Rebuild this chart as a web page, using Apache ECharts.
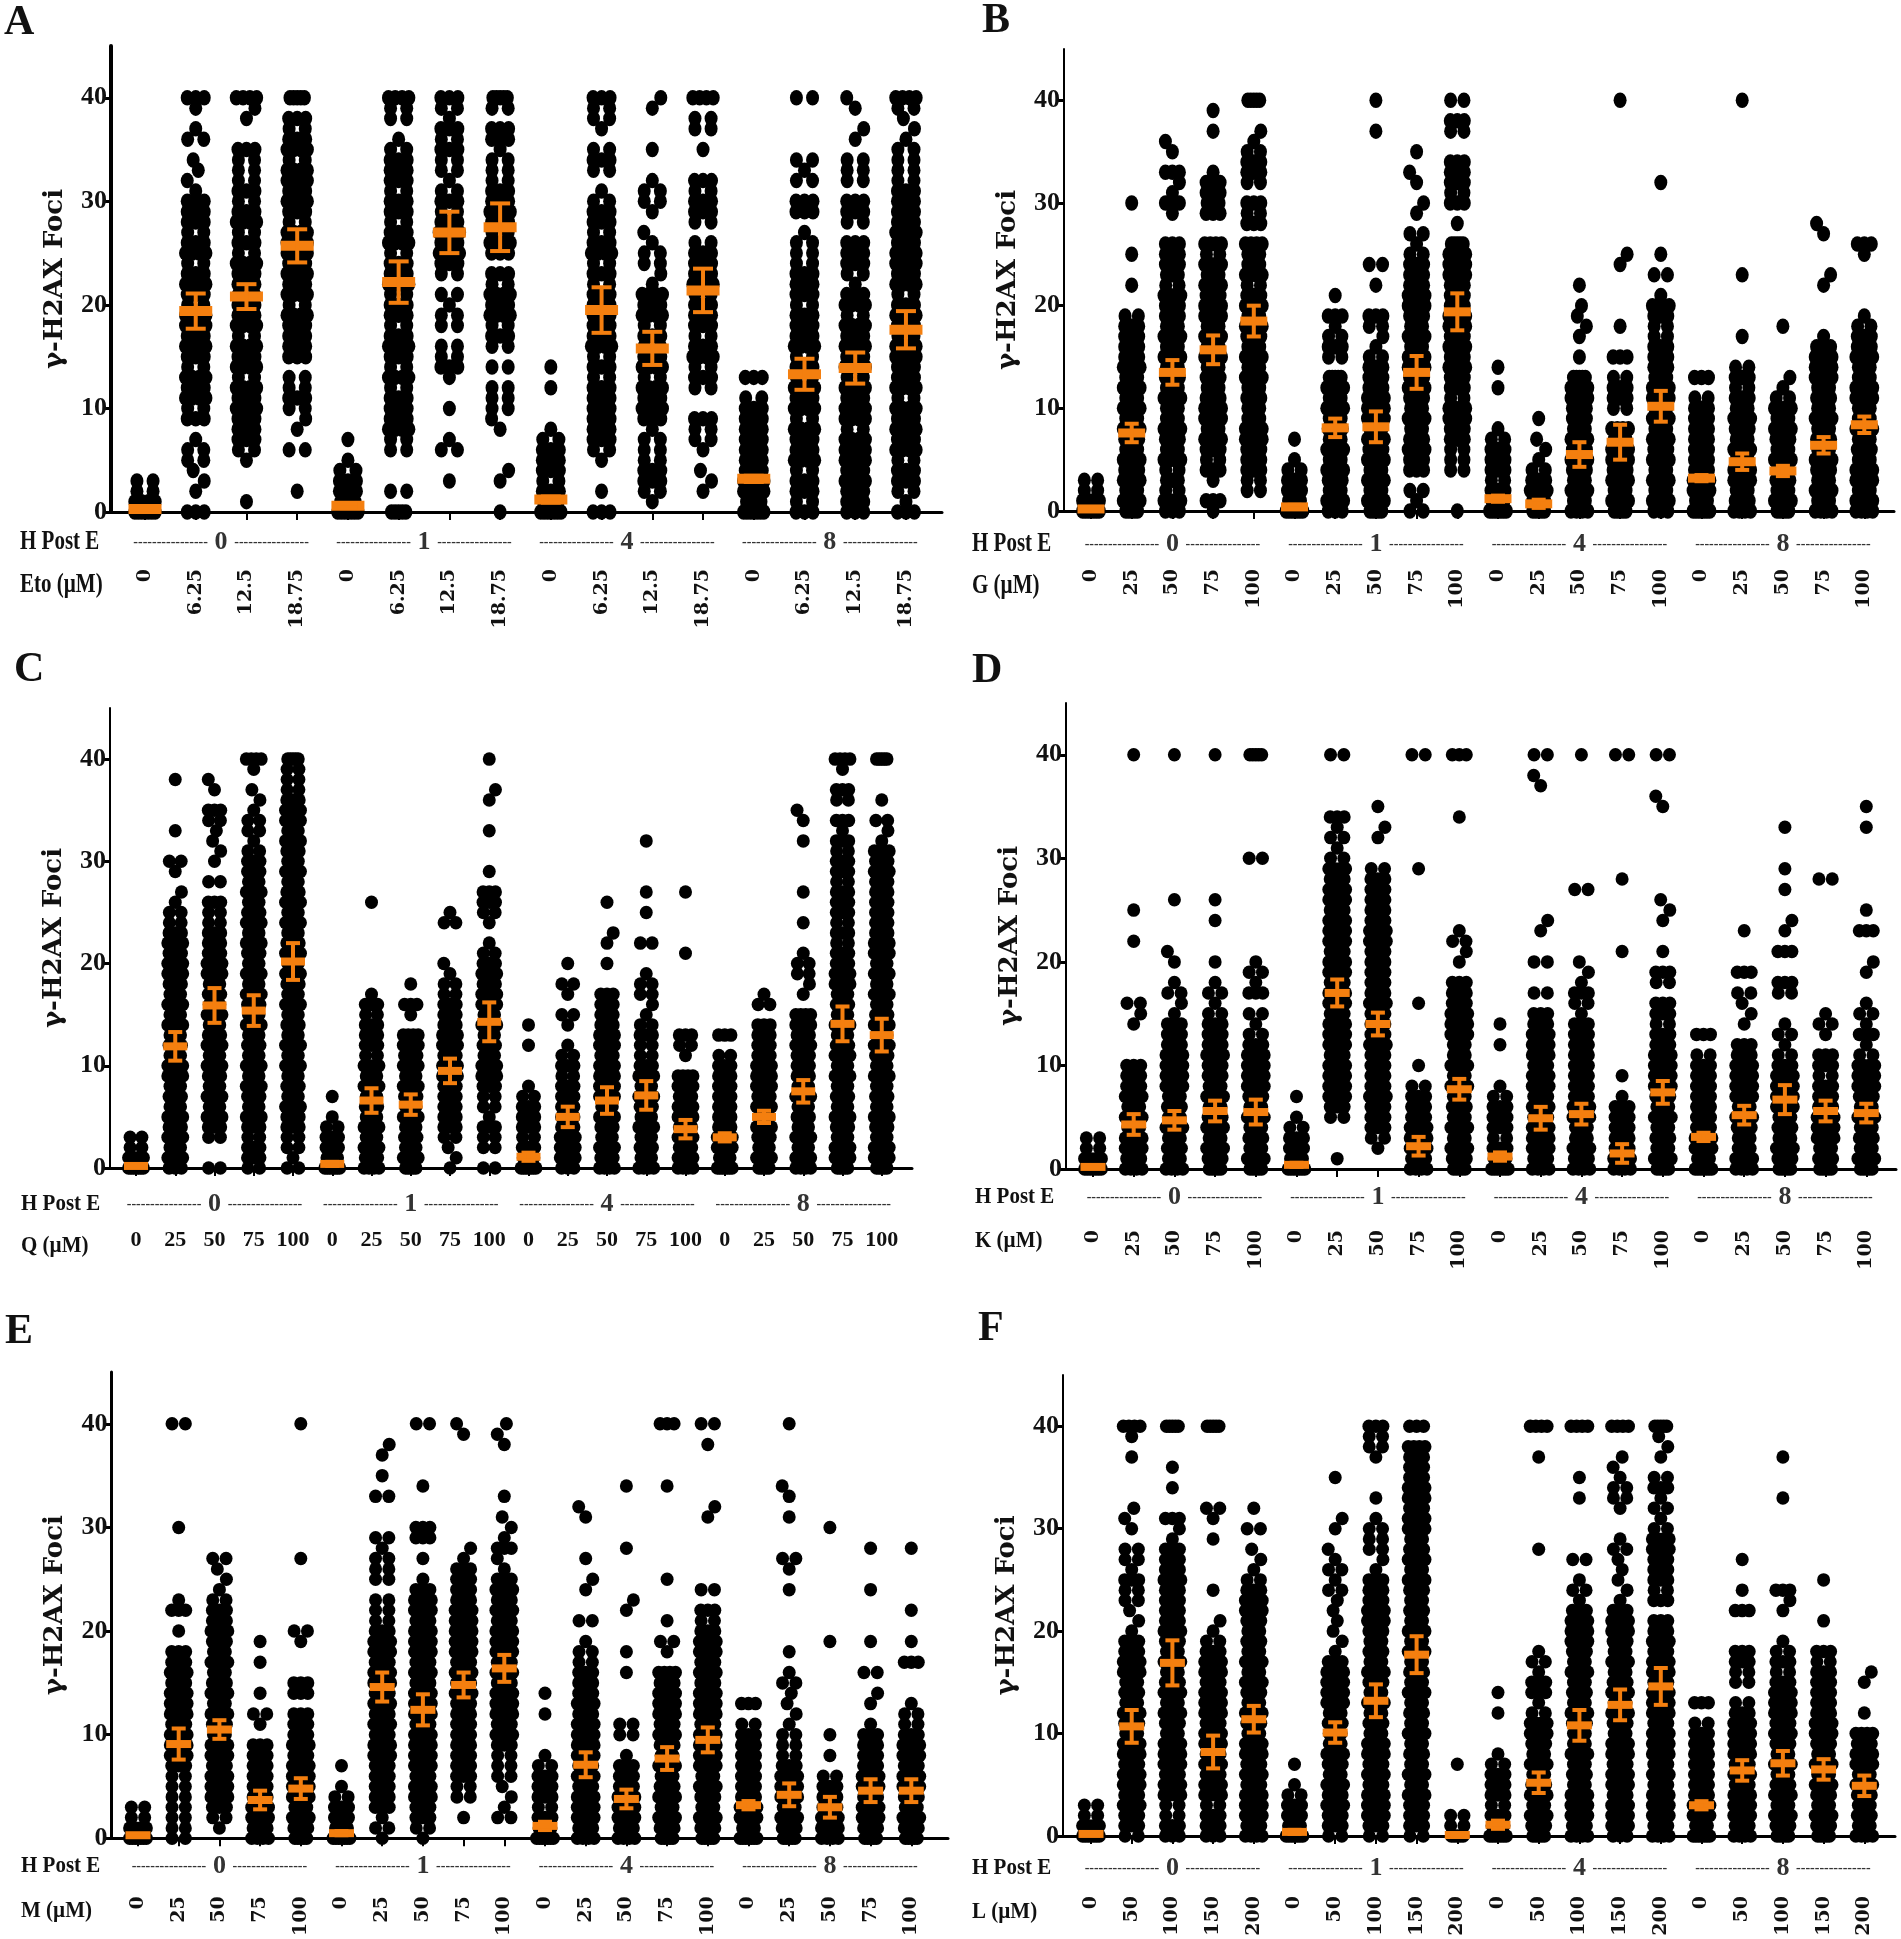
<!DOCTYPE html>
<html><head><meta charset="utf-8"><style>html,body{margin:0;padding:0;background:#fff}#c{width:1901px;height:1939px}</style>
<script src="https://cdn.jsdelivr.net/npm/echarts@6/dist/echarts.min.js"></script></head><body><div id="c"></div>
<script>
// Each column string: number of cells at 0,1,2,... foci (groups of ten digits, values 0-9, 10-19, 20-29, 30-39, 40).
const groups = ['0','1','4','8'];
const dosesA = ['0','6.25','12.5','18.75','0','6.25','12.5','18.75','0','6.25','12.5','18.75','0','6.25','12.5','18.75'];
const meansA = [0.3,19.4,20.8,25.7,0.6,22.2,27,27.5,1.2,19.5,15.8,21.4,3.2,13.3,13.9,17.6];
const semsA = [0.1,1.7,1.2,1.6,0.2,2,2,2.3,0.3,2.2,1.6,2.1,0.3,1.5,1.5,1.8];
const countsA = [
'7422',
'3011122103 2434234344 2343243233 3111102101 3',
'0100012333 4342434243 3233423243 2322230011 4',
'0010002011 2322033334 2434344423 4344243230 5',
'7533210100',
'5020002243 3324234323 3243324323 3233321022 4',
'0001002100 1001322022 1202343432 3212232312 3',
'1001100011 2220202324 3423034234 3322213302 5',
'7532333210 00101',
'3010012333 3332324333 3323243233 2102320122 3',
'0123322213 4342432324 3411221101 2210010001 1',
'0011101223 0023243233 3243332023 3230010220 4',
'7544333333 3203',
'3233243342 4342324333 2333222103 3021200000 2',
'3334344424 4342434342 4312333023 3022201101 1',
'3123324343 4243344234 3243443433 3322221112 4'];
const dosesB = ['0','25','50','75','100','0','25','50','75','100','0','25','50','75','100','0','25','50','75','100'];
const meansB = [0.2,7.6,13.5,15.7,18.5,0.4,8.1,8.2,13.5,19.4,1.2,0.7,5.5,6.7,10.2,3.2,4.8,3.9,6.4,8.4];
const semsB = [0.1,0.9,1.2,1.4,1.5,0.2,0.9,1.5,1.6,1.8,0.3,0.4,1.2,1.7,1.5,0.3,0.8,0.5,0.8,0.8];
const countsB = [
'7422',
'5454345345 4545433332 0010010000 1',
'3425245345 5453545453 3425333001 3113011000',
'1301323454 4353545454 4345424003 5331000101',
'0022333445 5354545345 4324554032 3023321100 5',
'7533210100',
'3453454535 4545023213 01',
'5454543454 4433321123 0010200000 0000000100 1',
'2120334354 5343445453 4433321201 1011010000',
'1000222334 4233434344 3334445010 3233300230 2',
'7532333210 00101',
'5543211101',
'4545343453 3445010111 101',
'5454344540 2332030010 0000110000 0000000000 1',
'3454543454 5445333223 4102010000 001',
'7544333333 3203',
'4354454534 5323200100 0001000000 0000000000 1',
'5453545345 4211000010',
'4545345354 5354443100 0011000110',
'4656453545 5445543321 0000013000'];
const dosesC = dosesB.slice();
const meansC = [0.2,11.9,15.9,15.4,20.2,0.4,6.6,6.2,9.5,14.3,1.1,5,6.6,7.1,3.8,3,5,7.5,14.1,13];
const semsC = [0.1,1.4,1.7,1.5,1.8,0.2,1.2,1,1.2,1.9,0.4,1,1.3,1.4,0.9,0.4,0.6,1.1,1.7,1.6];
const countsC = [
'7422',
'3454345354 4535454534 4343221101 2001000010',
'2002345453 4543545354 4333223020 1111230110',
'2332345345 4535453454 5345435453 3212211101 4',
'2122334535 4545354534 5435454354 5345443222 5',
'7533210100',
'4345453545 4233323100 0000001',
'5453545345 4344013010',
'1112333334 4344333221 1000210000',
'2022312234 4535454434 3210123301 0001001100 1',
'7532333210 00101',
'3444333332 3210120120 1',
'4345345444 4344333300 1011001',
'4535453454 3223211221 0020010100 001',
'4434344344 0123000000 0100000100',
'7544333333 3203',
'5453454344 4333302100',
'4454535453 3343440112 2100100100 0010110000',
'5445345354 5435453544 3323233323 3231302301 4',
'5465345354 5345435454 5443333334 3411201000 5'];
const dosesD = dosesB.slice();
const meansD = [0.2,4.3,4.7,5.6,5.5,0.4,17,14,2.2,7.7,1.2,4.9,5.3,1.5,7.4,3.1,5.2,6.7,5.6,5.4];
const semsD = [0.1,1,0.9,1,1.2,0.2,1.3,1.1,0.9,1,0.4,1.1,1,0.9,1.1,0.4,0.9,1.4,1,0.9];
const countsD = [
'7422',
'4344545433 3000112000 0010010000 0000000000 1',
'4535453544 4433311210 1100001000 0000000000 1',
'5345435453 3433321210 1000101000 0000000000 1',
'5453545344 4432120312 1000000000 2000000000 5',
'7533210100',
'0100023444 4344434434 4344434434 2121300000 2',
'0012333433 3343334333 3344333332 0011010000',
'4344433320 1000001000 0000000001 0000000000 2',
'5345453545 4554443330 1121000000 0000100000 3',
'7532333210 00101',
'4344434344 3444330200 2001100000 0000000110 2',
'4345544333 3333312311 1000000200 0000000000 1',
'4433333101 0000000000 0100000010 0000000000 2',
'5453545344 4433233023 0100111000 0000011000 2',
'7544333333 3203',
'4455345444 4330111203 0001',
'5345354444 3212100230 0301100101 0001',
'5354443332 3301210000 0000000020',
'5453545344 4213121001 1003010000 0001010000'];
const dosesE = dosesB.slice();
const meansE = [0.3,9.1,10.5,3.7,4.8,0.5,14.6,12.4,14.8,16.4,1.2,7.1,3.8,7.7,9.5,3.2,4.2,3,4.6,4.6];
const semsE = [0.1,1.5,0.9,0.9,1,0.2,1.4,1.5,1.2,1.3,0.4,1.2,0.9,1.1,1.2,0.4,1.1,1,1.1,1.1];
const countsE = [
'7422',
'2222222344 4344434330 1031000000 1000000000 2',
'0123444344 5345435453 4332111200',
'4344333333 0120100101',
'5345444434 3330330001 2000000100 0000000000 1',
'7533210100',
'1213333344 3434344344 3222022212 0002010110',
'1233443444 4344434344 4344310103 3000100000 2',
'0010223333 3333434344 4443333110 0000000001 1',
'0021112223 4344434344 4343431131 1101000011 1',
'7532333210 00101',
'4344434344 4434333221 0200110100 011',
'4344433310 2200001010 0011000010 00001',
'5345435453 4344434012 0100010000 0000100000 3',
'5345345444 4344434344 3230200000 0110000010 2',
'7544333333 3203',
'5345444322 2111121010 0000101200 0101100000 1',
'4443332010 1000000001 0000000000 1',
'5344344333 3101102001 0000100010',
'5345344344 3221000301 0010000010'];
const dosesF = ['0','50','100','150','200','0','50','100','150','200','0','50','100','150','200','0','50','100','150','200'];
const meansF = [0.2,10.7,16.9,8.2,11.4,0.4,10.1,13.2,17.7,0.1,1.1,5.2,10.8,12.8,14.6,3,6.4,7.1,6.5,4.9];
const semsF = [0.1,1.6,2.2,1.6,1.3,0.2,1,1.6,1.8,0.1,0.4,1,1.5,1.5,1.8,0.4,1,1.2,1,1];
const countsF = [
'7422',
'2334344344 5345354433 1112231220 1110000101 4',
'3322443444 5345435453 4333343331 1300101000 5',
'3332443434 4344434432 1100100001 0120000000 5',
'4344434344 5345345453 5344321110 2010000000',
'7533210100',
'2334345345 5354444311 1111212110 1100010000',
'2344434344 5354534535 3443331122 2101000122 3',
'2333454535 4535453545 4535345435 4434433340 3',
'5220000100',
'7532333210 00101',
'5345435453 4421331210 0000000010 0000000100 4',
'4344453545 5345354534 4431210200 0001010000 4',
'3444344344 5345435453 4431111121 0012211100 4',
'4344434344 4344434434 3303233344 2121320111 5',
'7544333333 3203',
'4344434344 4432022330 0030100100',
'5345435453 4344432321 0011300000 0001000100',
'5345345453 4433333230 0100010000',
'4535345443 4010011000'];

const panels = [
 {id:'A',unit:'Eto (µM)',d:dosesA,m:meansA,s:semsA,c:countsA,ax:111,end:942,top:46,zero:512,c0:145,sp:50.73,dot:[13,15.5],gap:8.5,bar:33,capW:20,barH:10,yl:4,row:30,dm:57,rot:90,lx:20,lx2:20,ly:542,uy:585,sy:1.3,tx:4,ty:23},
 {id:'B',unit:'G (µM)',d:dosesB,m:meansB,s:semsB,c:countsB,ax:1064,end:1894,top:49,zero:511,c0:1091,sp:40.7,dot:[13,15.5],gap:7,bar:27,capW:14,barH:9,yl:2,row:33,dm:58,rot:90,lx:972,lx2:972,ly:544,uy:586,sy:1.3,tx:982,ty:21},
 {id:'C',unit:'Q (µM)',d:dosesC,m:meansC,s:semsC,c:countsC,ax:110,end:912,top:708,zero:1168,c0:136,sp:39.25,dot:[13,13.5],gap:6.2,bar:24,capW:14,barH:8,yl:2,row:36,dm:61,rot:0,lx:21,lx2:21,ly:1204,uy:1246,sy:1.05,tx:14,ty:670},
 {id:'D',unit:'K (µM)',d:dosesD,m:meansD,s:semsD,c:countsD,ax:1066,end:1896,top:703,zero:1169,c0:1093,sp:40.7,dot:[13,13.5],gap:7,bar:25,capW:14,barH:8,yl:2,row:28,dm:61,rot:90,lx:975,lx2:975,ly:1197,uy:1241,sy:1.05,tx:972,ty:671},
 {id:'E',unit:'M (µM)',d:dosesE,m:meansE,s:semsE,c:countsE,ax:111.5,end:948,top:1372,zero:1838.5,c0:138,sp:40.7,dot:[13,13.5],gap:7,bar:25,capW:14,barH:8,yl:3,row:28,dm:58,rot:90,lx:21,lx2:21,ly:1866,uy:1911,sy:1.05,tx:5,ty:1332},
 {id:'F',unit:'L (µM)',d:dosesF,m:meansF,s:semsF,c:countsF,ax:1063,end:1895,top:1375,zero:1836,c0:1091,sp:40.7,dot:[13,13.5],gap:7,bar:25,capW:14,barH:8,yl:2,row:32,dm:60,rot:90,lx:972,lx2:972,ly:1868,uy:1912,sy:1.05,tx:978,ty:1329}
];

const spreadFactor = {2:1.9,3:2,4:2.4,5:1.7,6:2.4,7:2.4};
function swarm(countStr, col, p){
  const digits = countStr.replace(/ /g,'');
  const pts = []; let prev = null, side = 1;
  for (let v=0; v<digits.length; v++){
    const n = +digits[v];
    if (!n){ prev = null; continue; }
    if (n===1){
      let o = 0;
      if (prev!==null){ if (prev===0){ o = side*p.gap; side=-side; } else { o = prev>0 ? -p.gap*0.3 : p.gap*0.3; } }
      pts.push([col+o/p.sp, v]); prev = o;
    } else {
      const st = spreadFactor[n]*p.gap/(n-1);
      for (let i=0;i<n;i++) pts.push([col+(i-(n-1)/2)*st/p.sp, v]);
      prev = null;
    }
  }
  return pts;
}

const ORANGE = '#f47f0f';
const grid=[],xAxis=[],yAxis=[],series=[],graphic=[];
const dash='----------------';
panels.forEach((p,k)=>{
  const n=p.d.length, idx=p.d.map((_,i)=>i), per=n/4;
  const xmin=(p.ax-p.c0)/p.sp, xmax=(p.end-p.c0)/p.sp;
  const gv=[0,1,2,3].map(g=>g*per+(per-1)/2);
  grid.push({left:p.ax,top:p.top,width:p.end-p.ax,height:p.zero-p.top});
  xAxis.push({type:'value',gridIndex:k,min:xmin,max:xmax,position:'bottom',splitLine:{show:false},
    axisLine:{onZero:false,lineStyle:{color:'#000',width:3}},
    axisTick:{show:true,customValues:idx,length:8,lineStyle:{color:'#000',width:2}},
    axisLabel:{show:true,customValues:idx,margin:p.dm,rotate:p.rot,hideOverlap:false,formatter:v=>p.d[Math.round(v)],
      fontFamily:p.rot?'DejaVu Serif':'Liberation Serif',fontWeight:'bold',fontSize:p.rot?19:22,color:'#111',verticalAlign:p.rot?'middle':'top'}});
  xAxis.push({type:'value',gridIndex:k,min:xmin,max:xmax,position:'bottom',splitLine:{show:false},
    axisLine:{show:false,onZero:false},axisTick:{show:false},
    axisLabel:{show:true,customValues:gv,margin:p.row-13,hideOverlap:false,
      formatter:v=>'{d|'+dash+'}  {n|'+groups[Math.round((v-(per-1)/2)/per)]+'}  {d|'+dash+'}',
      rich:{d:{fontFamily:'Liberation Serif',fontWeight:'bold',fontSize:14,color:'#333'},n:{fontFamily:'Liberation Serif',fontWeight:'bold',fontSize:26,color:'#333'}}}});
  yAxis.push({type:'value',gridIndex:k,min:0,max:45,splitLine:{show:false},
    name:'γ-H2AX Foci',nameLocation:'middle',nameGap:43,nameRotate:90,
    nameTextStyle:{fontFamily:'DejaVu Serif',fontWeight:'bold',fontSize:26,color:'#111'},
    axisLine:{show:true,onZero:false,lineStyle:{color:'#000',width:p.yl}},
    axisTick:{show:true,customValues:[0,10,20,30,40],length:8,lineStyle:{color:'#000',width:3}},
    axisLabel:{customValues:[0,10,20,30,40],margin:4,fontFamily:'Liberation Sans Narrow',fontWeight:'bold',fontSize:26,color:'#111'}});
  const pts=[]; p.c.forEach((s,i)=>pts.push(...swarm(s,i,p)));
  series.push({type:'scatter',xAxisIndex:2*k,yAxisIndex:k,data:pts,symbol:'circle',symbolSize:p.dot,clip:false,progressive:0,silent:true,z:3,
    itemStyle:{color:'#000',opacity:1}});
  series.push({type:'custom',xAxisIndex:2*k,yAxisIndex:k,clip:false,silent:true,z:5,encode:{x:0,y:1},
    data:p.m.map((m,i)=>[i,m,p.s[i]]),
    renderItem:(params,api)=>{
      const x=api.value(0),m=api.value(1),e=api.value(2);
      const c=api.coord([x,m]),hi=api.coord([x,m+e]),lo=api.coord([x,m-e]);
      const st={fill:ORANGE};
      return {type:'group',children:[
        {type:'rect',shape:{x:c[0]-p.bar/2,y:c[1]-p.barH/2,width:p.bar,height:p.barH},style:st},
        {type:'rect',shape:{x:c[0]-2,y:hi[1],width:4,height:lo[1]-hi[1]},style:st},
        {type:'rect',shape:{x:c[0]-p.capW/2,y:hi[1]-2,width:p.capW,height:4},style:st},
        {type:'rect',shape:{x:c[0]-p.capW/2,y:lo[1]-2,width:p.capW,height:4},style:st}]};
    }});
  const serif='bold 21px "Liberation Serif"';
  graphic.push({type:'text',x:p.tx,y:p.ty,style:{text:p.id,font:'bold 42px "Liberation Serif"',fill:'#111',textVerticalAlign:'middle'}});
  graphic.push({type:'text',x:p.lx,y:p.ly,scaleY:p.sy,style:{text:'H Post E',font:serif,fill:'#111',textVerticalAlign:'middle'}});
  graphic.push({type:'text',x:p.lx2,y:p.uy,scaleY:p.sy,style:{text:p.unit,font:serif,fill:'#111',textVerticalAlign:'middle'}});
});
const chart=echarts.init(document.getElementById('c'),null,{renderer:'canvas'});
chart.setOption({animation:false,backgroundColor:'#fff',grid,xAxis,yAxis,series,graphic});
</script></body></html>
